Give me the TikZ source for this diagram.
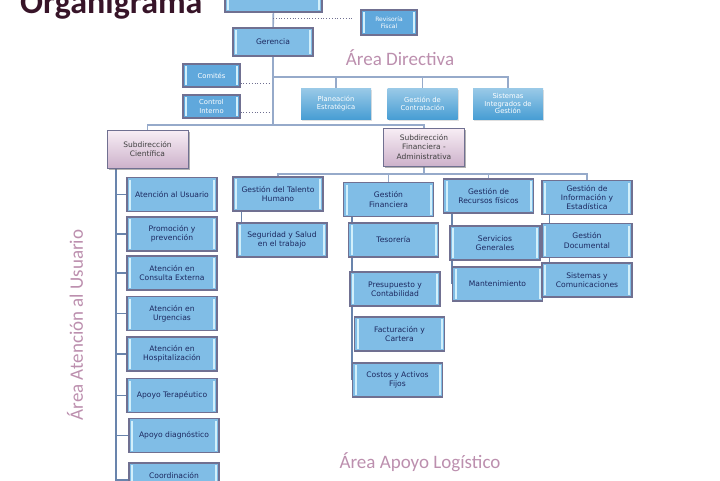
\documentclass[tikz,border=0pt]{standalone}
\usepackage{fontspec}
\setmainfont{DejaVu Sans}
\newfontfamily\areafont{Carlito}
\usetikzlibrary{backgrounds,shadows}

\definecolor{cajaazul}{RGB}{128,189,230}
\definecolor{bordecaja}{RGB}{112,112,145}
\definecolor{barra}{RGB}{210,240,251}
\definecolor{textoazul}{RGB}{28,40,95}
\definecolor{azulapoyo}{RGB}{96,168,220}
\definecolor{azuldir}{RGB}{72,158,212}
\definecolor{rosaclaro}{RGB}{248,238,245}
\definecolor{rosaoscuro}{RGB}{205,178,203}
\definecolor{linea}{RGB}{150,170,202}
\definecolor{rama}{RGB}{105,132,172}
\definecolor{areacol}{RGB}{188,143,174}
\definecolor{titulocol}{RGB}{55,20,40}

\begin{document}
\begin{tikzpicture}[x=1pt,y=-1pt]
\tikzstyle{every node}+=[inner sep=1pt]
\tikzstyle{caja}=[draw=bordecaja, line width=1.2pt, fill=cajaazul, text=textoazul,
  font=\fontsize{7.6}{9.4}\selectfont, align=center, minimum width=90pt, minimum height=34pt,
  path picture={
    \fill[barra] ([xshift=2pt,yshift=-2pt]path picture bounding box.north west)
      rectangle ([xshift=4pt,yshift=2pt]path picture bounding box.south west);
    \fill[barra] ([xshift=-2pt,yshift=-2pt]path picture bounding box.north east)
      rectangle ([xshift=-4pt,yshift=2pt]path picture bounding box.south east);}]
\tikzstyle{apoyo}=[caja, fill=azulapoyo, text=white, font=\fontsize{6.8}{8.2}\selectfont]
\tikzstyle{directiva}=[top color=azuldir!55!white, bottom color=azuldir, text=white,
  font=\fontsize{6.8}{7.8}\selectfont, align=center, minimum width=70pt, minimum height=31pt,
  drop shadow={shadow xshift=1pt, shadow yshift=-1.5pt, fill=gray!50}]
\tikzstyle{subdir}=[draw=bordecaja, line width=1pt, top color=rosaclaro, bottom color=rosaoscuro,
  text=black!75, font=\fontsize{7.5}{9.3}\selectfont, align=center, minimum width=81pt,
  minimum height=38pt, drop shadow={shadow xshift=1.5pt, shadow yshift=-1.5pt, fill=black!60}]
\tikzstyle{enlace}=[draw=linea, line width=1.6pt]
\tikzstyle{ramal}=[draw=rama, line width=1.2pt]
\tikzstyle{punteado}=[draw=bordecaja, dotted, line width=0.8pt]
\tikzstyle{areatexto}=[text=areacol, font=\areafont\fontsize{19}{21}\selectfont]

\useasboundingbox (0,0) rectangle (720,480);
\clip (0,0) rectangle (720,480);

% title and area names
\node[anchor=base west, text=titulocol, font=\areafont\bfseries\fontsize{34}{36}\selectfont] (titulo) at (19,13) {Organigrama};
\node[areatexto] (directivas) at (400,58) {Área Directiva};
\node[areatexto] (logistico) at (420,462) {Área Apoyo Logístico};
\node[areatexto, rotate=90] (atencion) at (75,325) {Área Atención al Usuario};

% top of the chart
\node[caja, minimum width=97pt] (junta) at (273.5,-5) {};
\node[apoyo, minimum width=56pt, minimum height=25pt, font=\fontsize{6}{7}\selectfont] (revisoria) at (389,22.5) {Revisoría\\Fiscal};
\node[caja, minimum width=80pt, minimum height=28pt] (gerencia) at (273,42) {Gerencia};
\node[apoyo, minimum width=57pt, minimum height=23pt] (comites) at (211.5,75.5) {Comités};
\node[apoyo, minimum width=57pt, minimum height=23pt] (control) at (211.5,106.5) {Control\\Interno};
\node[directiva] (planeacion) at (336,103.5) {Planeación\\Estratégica};
\node[directiva] (contratacion) at (422.5,103.5) {Gestión de\\Contratación};
\node[directiva] (sig) at (508,103.5) {Sistemas\\Integrados de\\Gestión};

% subdirecciones
\node[subdir] (cientifica) at (147.5,149) {Subdirección\\Científica};
\node[subdir] (financiera) at (424,147) {Subdirección\\Financiera -\\Administrativa};

% area atencion al usuario
\node[caja] (usuario) at (172,194.5) {Atención al Usuario};
\node[caja] (promocion) at (172,234) {Promoción y\\prevención};
\node[caja] (consulta) at (172,273) {Atención en\\Consulta Externa};
\node[caja] (urgencias) at (172,313.5) {Atención en\\Urgencias};
\node[caja] (hospitalizacion) at (172,354) {Atención en\\Hospitalización};
\node[caja] (terapeutico) at (172,395.5) {Apoyo Terapéutico};
\node[caja] (diagnostico) at (174,435.5) {Apoyo diagnóstico};
\node[caja] (coordinacion) at (174,480) {Coordinación\\\mbox{}};

% area apoyo logistico
\node[caja] (talento) at (278,194) {Gestión del Talento\\Humano};
\node[caja] (seguridad) at (282,240) {Seguridad y Salud\\en el trabajo};
\node[caja] (gfinanciera) at (388.5,199.5) {Gestión\\Financiera};
\node[caja] (tesoreria) at (393.5,240) {Tesorería};
\node[caja] (presupuesto) at (395,289) {Presupuesto y\\Contabilidad};
\node[caja] (facturacion) at (399.5,334) {Facturación y\\Cartera};
\node[caja] (costos) at (397.5,380) {Costos y Activos\\Fijos};
\node[caja] (recursos) at (488.5,196) {Gestión de\\Recursos físicos};
\node[caja] (servicios) at (495,243) {Servicios\\Generales};
\node[caja] (mantenimiento) at (497.5,284) {Mantenimiento};
\node[caja] (informacion) at (587,197.5) {Gestión de\\Información y\\Estadística};
\node[caja] (documental) at (587,240.5) {Gestión\\Documental};
\node[caja] (sistemas) at (587,280) {Sistemas y\\Comunicaciones};

\coordinate (rev) at (273,18);
\coordinate (revfin) at (352,18);
\coordinate (com) at (270,83);
\coordinate (ctl) at (270,112);
\coordinate (dirbus) at (273,77);
\coordinate (subbus) at (273,125);
\coordinate (finbus) at (424,174);
\coordinate (coltop) at (116,160);
\coordinate (colfin) at (116,490);

\begin{pgfonlayer}{background}
\draw[enlace] (junta) -- (gerencia);
\draw[enlace] (gerencia) -- (subbus);
\draw[punteado] (rev) -- (revfin);
\draw[punteado] (comites.east |- com) -- (com);
\draw[punteado] (control.east |- ctl) -- (ctl);
\draw[enlace] (dirbus) -| (planeacion);
\draw[enlace] (dirbus) -| (contratacion);
\draw[enlace] (dirbus) -| (sig);
\draw[enlace] (subbus) -| (cientifica);
\draw[enlace] (subbus) -| (financiera);
\draw[enlace] (financiera) -- (finbus);
\draw[enlace] (finbus) -| (talento);
\draw[enlace] (finbus) -| (gfinanciera);
\draw[enlace] (finbus) -| (recursos);
\draw[enlace] (finbus) -| (informacion);
% left column
\draw[ramal] (coltop) -- (colfin);
\draw[ramal] (usuario.west -| colfin) -- (usuario.west);
\draw[ramal] (promocion.west -| colfin) -- (promocion.west);
\draw[ramal] (consulta.west -| colfin) -- (consulta.west);
\draw[ramal] (urgencias.west -| colfin) -- (urgencias.west);
\draw[ramal] (hospitalizacion.west -| colfin) -- (hospitalizacion.west);
\draw[ramal] (terapeutico.west -| colfin) -- (terapeutico.west);
\draw[ramal] (diagnostico.west -| colfin) -- (diagnostico.west);
\draw[ramal] (coordinacion.west -| colfin) -- (coordinacion.west);
% columns under the logistic heads
\draw[ramal] ([xshift=9pt]talento.south west) |- (seguridad.west);
\draw[ramal] ([xshift=9pt]gfinanciera.south west) |- (costos.west);
\draw[ramal] ([xshift=9pt]recursos.south west) |- (mantenimiento.west);
\draw[ramal] ([xshift=8pt]informacion.south west) |- (sistemas.west);
\end{pgfonlayer}
\end{tikzpicture}
\end{document}
